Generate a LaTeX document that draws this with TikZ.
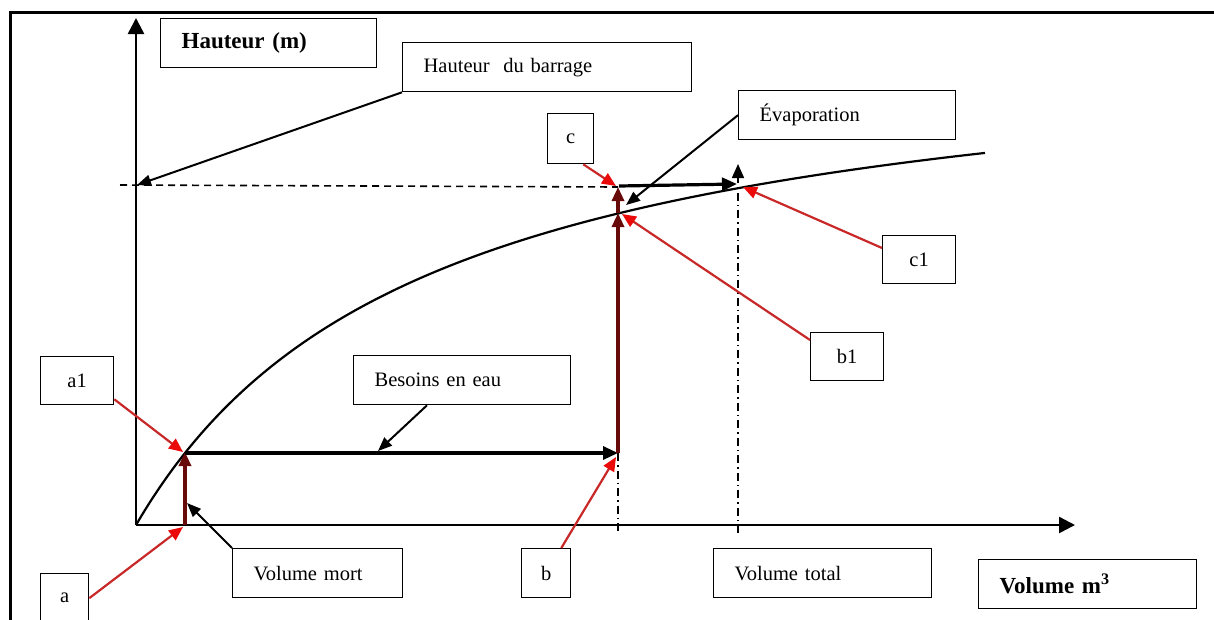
\documentclass[tikz,border=0pt]{standalone}
\usepackage{fontspec}
\setmainfont{Liberation Serif}
\usetikzlibrary{arrows.meta,calc}
\definecolor{redline}{RGB}{200,40,40}
\definecolor{redhead}{RGB}{235,10,10}
\definecolor{darkred}{RGB}{105,10,10}
\begin{document}
\begin{tikzpicture}[x=1pt,y=-1pt,
  txt/.style={font=\fontsize{20.5}{24}\selectfont},
  box/.style={draw, line width=1.3pt, minimum height=49pt, inner xsep=21pt, inner ysep=0pt,
    align=left, anchor=north west, txt},
  lbox/.style={draw, line width=1.3pt, inner sep=0pt, anchor=north west, txt},
  axis/.style={line width=2.5pt, -{Triangle[length=16pt,width=16pt]}},
  thick arrow/.style={line width=3.2pt, -{Triangle[length=15pt,width=13pt]}},
  thin arrow/.style={line width=2pt, -{Triangle[length=14pt,width=11pt]}},
  red arrow/.style={line width=2.2pt, redline, -{Triangle[length=14pt,width=12pt,color=redhead]}},
  dr arrow/.style={line width=3.2pt, darkred, -{Triangle[length=14pt,width=12pt]}},
  dashline/.style={line width=1.6pt, dash pattern=on 7pt off 5pt},
  dashdotline/.style={line width=1.6pt, dash pattern=on 8pt off 4pt on 1.5pt off 4pt},
  curveline/.style={line width=2.2pt}]
\useasboundingbox (0,0) rectangle (1214,619);
\clip (0,0) rectangle (1214,619);
% frame
\draw[line width=3pt] (10,12) rectangle (1240,660);

% key points
\coordinate (O) at (136,525);
\coordinate (ytip) at (136,18);
\coordinate (xtip) at (1075,525);
\coordinate (A) at (185,525);
\coordinate (A1) at (185,453);
\coordinate (B) at (618,453);
\coordinate (B1) at (618,213);
\coordinate (C) at (618,187);
\coordinate (C1) at (738,185);
\coordinate (H) at (137,185);
\coordinate (Dl) at (120,185);
\coordinate (Bb) at (618,533);
\coordinate (Tb) at (738,533);
\coordinate (Tt) at (738,164);

% boxes
\node[box, text width=174pt, font=\fontsize{23}{27}\selectfont\bfseries] (hm) at (160,18) {Hauteur (m)};
\node[box, text width=247pt] (hb) at (402,42) {Hauteur~ du barrage};
\node[box, text width=175pt] (evap) at (738,90) {Évaporation};
\node[box, text width=175pt] (bes) at (353,355) {Besoins en eau};
\node[box, text width=128pt] (vm) at (232,548) {Volume mort};
\node[box, text width=176pt] (vt) at (713,548) {Volume total};
\node[box, text width=176pt, font=\fontsize{23}{27}\selectfont\bfseries] (vm3) at (978,559) {Volume m\textsuperscript{3}};
\node[lbox, minimum width=73pt, minimum height=48pt] (a1) at (40,356) {a1};
\node[lbox, minimum width=48pt, minimum height=49pt] (a) at (40,573) {a};
\node[lbox, minimum width=49pt, minimum height=49pt] (b) at (521,548) {b};
\node[lbox, minimum width=46pt, minimum height=50pt] (c) at (547,113) {c};
\node[lbox, minimum width=73pt, minimum height=48pt] (b1) at (810,332) {b1};
\node[lbox, minimum width=73pt, minimum height=48pt] (c1) at (882,235) {c1};

% axes
\draw[axis] (O) -- (ytip);
\draw[axis] (O) -- (xtip);

% guide lines
\draw[dashline] (Dl) -- (C);
\draw[dashdotline] (B) -- (Bb);
\draw[dashdotline, -{Triangle[length=14pt,width=12pt]}] (Tb) -- (Tt);

% curve  h = 499.6 v/(v+291)
\draw[curveline] plot[domain=0:849, samples=120, smooth]
  ({136+\x}, {525-499.6*(\x/(\x+291))});

% main flow arrows
\draw[dr arrow] (A) -- ($(A1)+(0,-1)$);
\draw[thick arrow] (A1) -- (B);
\draw[dr arrow] (B) -- (B1);
\draw[dr arrow] (B1) -- (C);
\draw[thick arrow] ($(C)+(1,-1)$) -- ($(C1)+(-1,-1)$);

% label arrows
\draw[thin arrow] (hb.south west) -- (H);
\draw[thin arrow] (evap.west) -- (626,205);
\draw[thin arrow] (vm.north west) -- (187,503);
\draw[thin arrow] ($(bes.south west)+(74,0)$) -- (378,451);
\draw[red arrow] ($(c.south east)+(-11,0)$) -- (616,186);
\draw[red arrow] ($(b1.north west)+(0,8)$) -- (622,214);
\draw[red arrow] ($(c1.north west)+(0,13)$) -- (743,187);
\draw[red arrow] ($(b.north east)+(-10,0)$) -- (616,457);
\draw[red arrow] ($(a1.south east)+(0,-6)$) -- (183,452);
\draw[red arrow] (a.east) -- (183,527);
\end{tikzpicture}
\end{document}
